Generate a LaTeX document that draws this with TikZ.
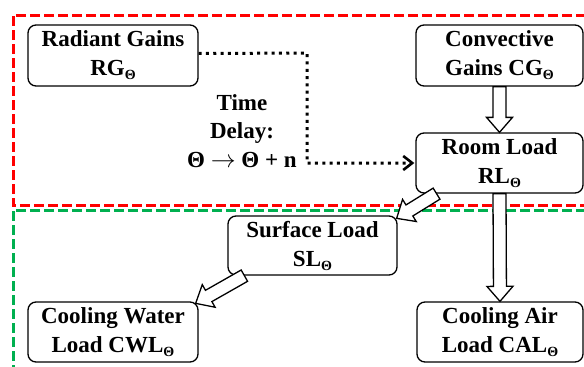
\documentclass[tikz,border=0pt]{standalone}
\usepackage{fontspec}
\setmainfont{Liberation Serif}
\usetikzlibrary{calc,arrows.meta}
\definecolor{boxred}{RGB}{255,0,0}
\definecolor{boxgreen}{RGB}{0,176,80}
\newcommand\subth{\raisebox{-4pt}{\fontsize{14}{14}\selectfont\bfseries Θ}}
\tikzset{
  loadbox/.style={draw, line width=1.3pt, rounded corners=8pt, fill=white,
    align=center, inner sep=0pt, font=\fontsize{23}{29}\selectfont\bfseries},
  region/.style={line width=3pt, dash pattern=on 10pt off 4pt},
  harrow/.style={draw, line width=1.3pt, fill=white, line join=miter},
  delay/.style={line width=3pt, dash pattern=on 3pt off 4.3pt,
    -{Straight Barb[length=9pt,width=14pt,line width=2.6pt]}}
}
\newcommand\hollowarrow[2]{%
  \coordinate (ha-a) at (#1);
  \coordinate (ha-b) at (#2);
  \coordinate (ha-h) at ($(ha-b)!15pt!(ha-a)$);
  \path[harrow] ($(ha-a)!6.5pt!90:(ha-b)$)
    -- ($(ha-h)!6.5pt!90:(ha-b)$)
    -- ($(ha-h)!13pt!90:(ha-b)$)
    -- (ha-b)
    -- ($(ha-h)!13pt!-90:(ha-b)$)
    -- ($(ha-h)!6.5pt!-90:(ha-b)$)
    -- ($(ha-a)!6.5pt!-90:(ha-b)$) -- cycle;
}
\begin{document}
\begin{tikzpicture}[x=1pt,y=1pt]
\clip (0,0) rectangle (584,-367);
\useasboundingbox (0,0) rectangle (584,-367);
% regions
\draw[region, boxred] (600,-15) -- (13,-15) -- (13,-205) -- (600,-205);
\draw[region, boxgreen] (600,-210) -- (13,-210) -- (13,-380);
% nodes
\node[loadbox, minimum width=170pt, minimum height=61pt] (RG) at (113,-55.5) {Radiant Gains\\RG\subth};
\node[loadbox, minimum width=167pt, minimum height=61pt] (CG) at (499.5,-55.5) {Convective\\Gains CG\subth};
\node[loadbox, minimum width=167pt, minimum height=60pt] (RL) at (499.5,-163) {Room Load\\RL\subth};
\node[loadbox, minimum width=169pt, minimum height=59pt] (SL) at (312.5,-245.5) {Surface Load\\SL\subth};
\node[loadbox, minimum width=170pt, minimum height=60pt] (CWL) at (113,-332) {Cooling Water\\Load CWL\subth};
\node[loadbox, minimum width=166pt, minimum height=60pt] (CAL) at (500,-332) {Cooling Air\\Load CAL\subth};
\node[align=center, inner sep=0pt, font=\fontsize{23}{28.5}\selectfont\bfseries] (TD) at (242,-131) {Time\\Delay:\\Θ $\rightarrow$ Θ + n};
% time delay connector
\coordinate (bend1) at (307,-53);
\draw[delay] ([yshift=2pt]RG.east) -- (bend1) |- ([xshift=-1pt]RL.west);
% hollow arrows
\hollowarrow{CG.south}{RL.north}
\hollowarrow{RL.south}{CAL.north}
\hollowarrow{$(RL.south west)!0.126!(RL.south east)$}{$(SL.north east)+(-1pt,-3pt)$}
\hollowarrow{$(SL.south west)!0.1!(SL.south east)$}{$(CWL.north east)+(-3pt,-2pt)$}
\end{tikzpicture}
\end{document}
